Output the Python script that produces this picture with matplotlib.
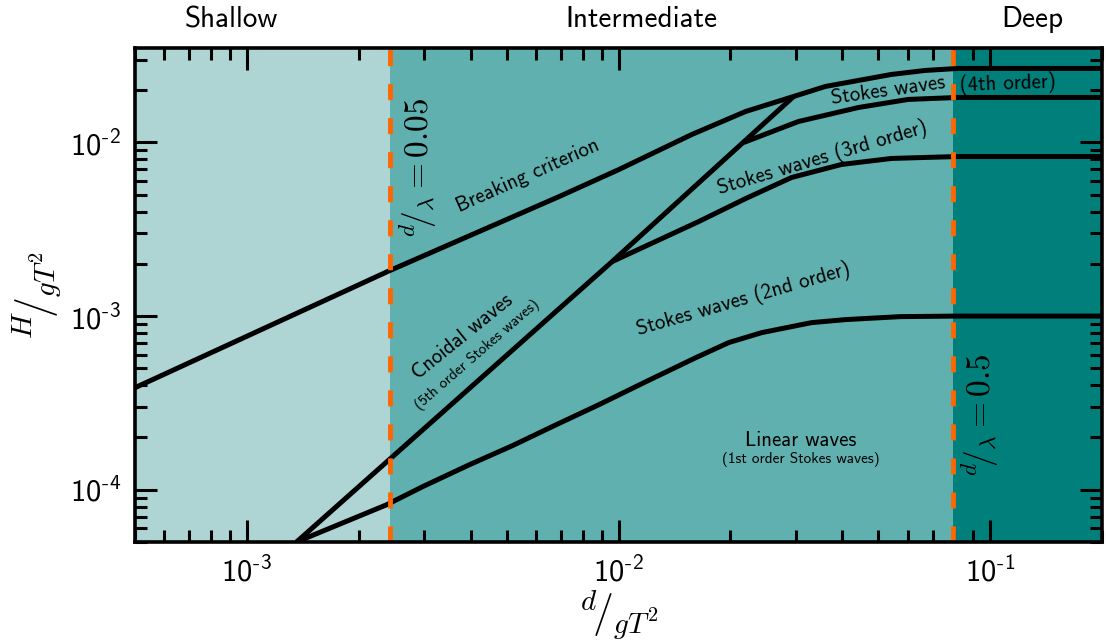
import numpy as np
import matplotlib
matplotlib.use('Agg')
import matplotlib.pyplot as plt
from matplotlib.ticker import LogLocator, FuncFormatter, NullFormatter

plt.rcParams['mathtext.fontset'] = 'cm'
plt.rcParams['font.family'] = ['cmss10', 'DejaVu Sans']
plt.rcParams['axes.unicode_minus'] = False

#region limits (d/gT^2 where d/lambda = 0.05 and 0.5)
shallow_limit = 0.00242
deep_limit = 0.0793

#breaking criterion
breaking_x = [5.0e-4, 2.39e-3, 6.92e-3, 0.01003, 0.01575, 0.02199, 0.0296, 0.03606, 0.0542, 0.0669, 0.082, 0.2]
breaking_y = [3.87e-4, 1.805e-3, 4.88e-3, 6.99e-3, 0.01112, 0.01509, 0.01841, 0.02103, 0.02465, 0.026, 0.0267, 0.0267]

#cnoidal / stokes limit (ursell)
ursell_x = [1.36e-3, 9.61e-3, 0.0296]
ursell_y = [5.0e-5, 2.06e-3, 0.01841]

#stokes 3rd / 4th order limit
stokes4_x = [0.02172, 0.0305, 0.0442, 0.0602, 0.082, 0.2]
stokes4_y = [0.01, 0.01321, 0.0159, 0.0177, 0.01817, 0.01817]

#stokes 2nd / 3rd order limit
stokes3_x = [9.61e-3, 0.01644, 0.02199, 0.02922, 0.0398, 0.0542, 0.0669, 0.082, 0.2]
stokes3_y = [2.06e-3, 3.505e-3, 4.755e-3, 6.285e-3, 7.47e-3, 8.09e-3, 8.2e-3, 8.3e-3, 8.3e-3]

#linear / stokes 2nd order limit
stokes2_x = [1.36e-3, 2.376e-3, 2.97e-3, 3.97e-3, 5.18e-3, 6.8e-3, 8.86e-3, 0.01185, 0.01615,
             0.0198, 0.02428, 0.03307, 0.0408, 0.0573, 0.08, 0.2]
stokes2_y = [5.0e-5, 8.19e-5, 1.041e-4, 1.393e-4, 1.793e-4, 2.369e-4, 3.09e-4, 4.19e-4, 5.765e-4,
             7.04e-4, 8.03e-4, 9.17e-4, 9.545e-4, 9.93e-4, 1.0e-3, 1.0e-3]

xmin, xmax = 5e-4, 0.2
ymin, ymax = 5e-5, 0.035

fig = plt.figure(figsize=(11.06, 6.42), dpi=100)
ax = fig.add_axes([0.1221, 0.1558, 0.8743, 0.7694])

#background regions
ax.axvspan(xmin, shallow_limit, color='#aed4d4', lw=0, zorder=0)
ax.axvspan(shallow_limit, deep_limit, color='#60b0b0', lw=0, zorder=0)
ax.axvspan(deep_limit, xmax, color='#007f7b', lw=0, zorder=0)

#limits between theories
for xs, ys in [(breaking_x, breaking_y), (ursell_x, ursell_y), (stokes4_x, stokes4_y),
               (stokes3_x, stokes3_y), (stokes2_x, stokes2_y)]:
    ax.plot(xs, ys, color='black', lw=3.6, solid_capstyle='butt', solid_joinstyle='round', zorder=2)

for xv in [shallow_limit, deep_limit]:
    ax.axvline(xv, color='#ff6600', lw=3.5, dashes=(3.3, 3.7), zorder=3)

ax.set_xscale('log')
ax.set_yscale('log')
ax.set_xlim(xmin, xmax)
ax.set_ylim(ymin, ymax)

#ticks (short hyphen in the exponent, as in the original)
fmt = FuncFormatter(lambda v, pos: r'$\mathregular{10^{\text{-}%d}}$' % abs(round(np.log10(v))))
for axis in [ax.xaxis, ax.yaxis]:
    axis.set_major_locator(LogLocator(base=10))
    axis.set_minor_locator(LogLocator(base=10, subs=np.arange(2, 10)))
    axis.set_major_formatter(fmt)
    axis.set_minor_formatter(NullFormatter())
ax.tick_params(which='both', direction='in', top=True, right=True, width=2.2, labelsize=22)
ax.tick_params(which='major', length=16, pad=10)
ax.tick_params(which='minor', length=8.5)
for s in ax.spines.values():
    s.set_linewidth(2.6)
    s.set_zorder(4)

ax.set_xlabel(r'${}^{d}\!/_{gT^2}$', fontsize=30, labelpad=0)
ax.set_ylabel(r'${}^{H}\!/_{gT^2}$', fontsize=30, labelpad=4)

#region names
ax.text(9.06e-4, 1.057, 'Shallow', transform=ax.get_xaxis_transform(), ha='center', va='center', fontsize=21)
ax.text(0.0115, 1.057, 'Intermediate', transform=ax.get_xaxis_transform(), ha='center', va='center', fontsize=21)
ax.text(0.130, 1.057, 'Deep', transform=ax.get_xaxis_transform(), ha='center', va='center', fontsize=21)

#labels
ax.text(5.71e-3, 6.45e-3, 'Breaking criterion', rotation=24, ha='center', va='center', fontsize=15)
ax.text(3.8e-3, 7.62e-4, 'Cnoidal waves', rotation=39, ha='center', va='center', fontsize=15)
ax.text(4.17e-3, 6.0e-4, '(5th order Stokes waves)', rotation=41, ha='center', va='center', fontsize=11)
ax.text(0.0217, 1.245e-3, 'Stokes waves (2nd order)', rotation=16, ha='center', va='center', fontsize=15)
ax.text(0.0354, 8.2e-3, 'Stokes waves (3rd order)', rotation=16.5, ha='center', va='center', fontsize=15)
ax.text(0.0532, 0.01994, 'Stokes waves', rotation=8, ha='center', va='center', fontsize=15)
ax.text(0.1117, 0.0219, '(4th order)', rotation=2, ha='center', va='center', fontsize=15)
ax.text(0.0309, 1.916e-4, 'Linear waves', ha='center', va='center', fontsize=15)
ax.text(0.0309, 1.49e-4, '(1st order Stokes waves)', ha='center', va='center', fontsize=11)
ax.text(2.894e-3, 7.17e-3, r'${}^{d}\!/_{\lambda} = 0.05$', rotation=90, ha='center', va='center', fontsize=24)
ax.text(0.094, 2.705e-4, r'${}^{d}\!/_{\lambda} = 0.5$', rotation=90, ha='center', va='center', fontsize=24)

plt.savefig('out.png', dpi=100)
